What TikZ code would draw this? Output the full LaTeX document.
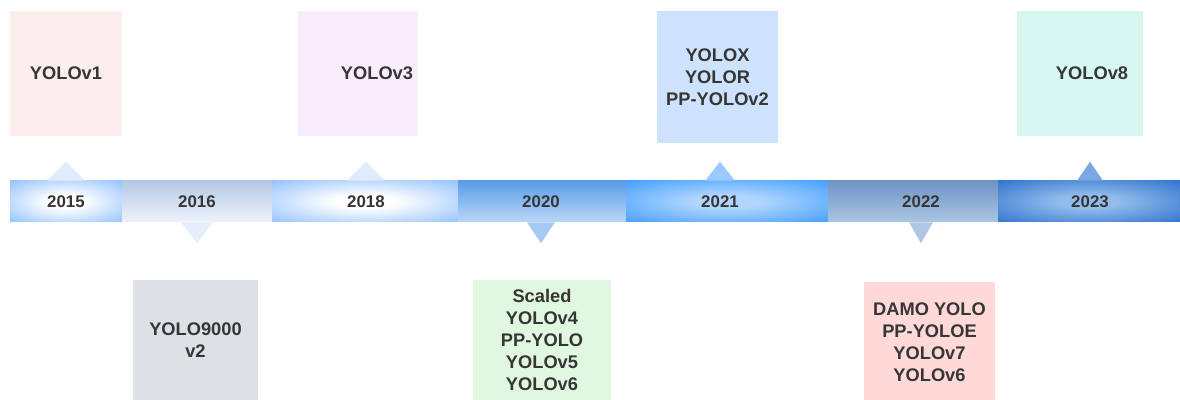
\documentclass[tikz,border=0pt]{standalone}
\usepackage{fontspec}
\setmainfont{Liberation Sans}
\usepackage{xcolor}
\usetikzlibrary{positioning}

\definecolor{txtgray}{HTML}{363636}
\definecolor{barblue}{HTML}{8CBEFF}
\definecolor{midblue}{HTML}{3D9BFF}
\definecolor{deepblue}{HTML}{2B6FCC}
\definecolor{sixtop}{HTML}{B3C8E6}
\definecolor{sixbot}{HTML}{EEF3FB}
\definecolor{twentytop}{HTML}{5B9CE8}
\definecolor{twentybot}{HTML}{B9D7F7}
\definecolor{onemid}{HTML}{B0D6FF}
\definecolor{twotop}{HTML}{6E95C5}
\definecolor{twobot}{HTML}{AAC5E2}
\definecolor{threemid}{HTML}{92BCEC}
\definecolor{ptrpale}{HTML}{E0ECFD}
\definecolor{ptrsix}{HTML}{E6EEF9}
\definecolor{ptrtwenty}{HTML}{A8CAF2}
\definecolor{ptrone}{HTML}{9CC9FF}
\definecolor{ptrtwo}{HTML}{AFC7E2}
\definecolor{ptrthree}{HTML}{7AA8E3}
\definecolor{boxone}{RGB}{253,238,238}
\definecolor{boxthree}{RGB}{248,236,253}
\definecolor{boxx}{RGB}{204,226,253}
\definecolor{boxeight}{RGB}{215,247,241}
\definecolor{boxtwo}{RGB}{221,224,229}
\definecolor{boxfour}{RGB}{224,248,224}
\definecolor{boxseven}{RGB}{255,216,216}

% wide glows for the bar pieces
\pgfdeclareradialshading{paleglow}{\pgfpoint{0bp}{0bp}}{color(0bp)=(white); color(8bp)=(white); color(38bp)=(barblue); color(50bp)=(barblue)}
\pgfdeclareradialshading{midglow}{\pgfpoint{0bp}{0bp}}{color(0bp)=(onemid); color(8bp)=(onemid); color(38bp)=(midblue); color(50bp)=(midblue)}
\pgfdeclareradialshading{deepglow}{\pgfpoint{0bp}{0bp}}{color(0bp)=(threemid); color(8bp)=(threemid); color(38bp)=(deepblue); color(50bp)=(deepblue)}

\begin{document}
\begin{tikzpicture}[
		seg/.style={inner sep=0pt, minimum height=1.025cm},
		year/.style={font=\fontsize{12}{14}\selectfont\bfseries, text=txtgray},
		yolotext/.style={align=center, font=\fontsize{13}{15.6}\selectfont\bfseries, text=txtgray},
		yolobox/.style={inner sep=0pt, minimum height=3.125cm, yolotext}]
		\useasboundingbox (0,0) rectangle (29.5,10);
		%
		\node[seg, minimum width=2.8cm, shading=paleglow] (s15) at (1.65,4.9625) {};
		\node[seg, minimum width=3.75cm, top color=sixtop, bottom color=sixbot] (s16) at (4.925,4.9625) {};
		\node[seg, minimum width=4.65cm, shading=paleglow] (s18) at (9.125,4.9625) {};
		\node[seg, minimum width=4.2cm, top color=twentytop, bottom color=twentybot] (s20) at (13.55,4.9625) {};
		\node[seg, minimum width=5.05cm, shading=midglow] (s21) at (18.175,4.9625) {};
		\node[seg, minimum width=4.25cm, top color=twotop, bottom color=twobot] (s22) at (22.825,4.9625) {};
		\node[seg, minimum width=4.55cm, shading=deepglow] (s23) at (27.225,4.9625) {};
		%
		\node[year] (y15) at (1.65,4.95) {2015};
		\node[year] (y16) at (4.925,4.95) {2016};
		\node[year] (y18) at (9.15,4.95) {2018};
		\node[year] (y20) at (13.525,4.95) {2020};
		\node[year] (y21) at (18.0,4.95) {2021};
		\node[year] (y22) at (23.025,4.95) {2022};
		\node[year] (y23) at (27.25,4.95) {2023};
		%
		\fill[ptrpale] (y15 |- s15.north) ++(-0.475,0) -- ++(0.475,0.475) -- ++(0.475,-0.475) -- cycle;
		\fill[ptrsix] (y16 |- s16.south) ++(-0.4,0) -- ++(0.4,-0.525) -- ++(0.4,0.525) -- cycle;
		\fill[ptrpale] (y18 |- s18.north) ++(-0.475,0) -- ++(0.475,0.475) -- ++(0.475,-0.475) -- cycle;
		\fill[ptrtwenty] (y20 |- s20.south) ++(-0.35,0) -- ++(0.35,-0.525) -- ++(0.35,0.525) -- cycle;
		\fill[ptrone] (y21 |- s21.north) ++(-0.375,0) -- ++(0.375,0.475) -- ++(0.375,-0.475) -- cycle;
		\fill[ptrtwo] (y22 |- s22.south) ++(-0.3,0) -- ++(0.3,-0.525) -- ++(0.3,0.525) -- cycle;
		\fill[ptrthree] (y23 |- s23.north) ++(-0.325,0) -- ++(0.325,0.475) -- ++(0.325,-0.475) -- cycle;
		%
		\node[yolobox, minimum width=2.8cm, fill=boxone] (v1) at (1.65,8.1625) {YOLOv1};
		\node[yolobox, minimum width=3.0cm, fill=boxthree,
			label={[yolotext, xshift=0.475cm]center:YOLOv3}] (v3) at (8.95,8.1625) {};
		\node[yolobox, minimum width=3.025cm, minimum height=3.3cm, fill=boxx] (vx) at (17.9375,8.075) {YOLOX\\YOLOR\\PP-YOLOv2};
		\node[yolobox, minimum width=3.15cm, fill=boxeight,
			label={[yolotext, xshift=0.3cm]center:YOLOv8}] (v8) at (27.0,8.1625) {};
		\node[yolobox, minimum width=3.125cm, minimum height=3.0cm, fill=boxtwo] (v2) at (4.8875,1.5) {YOLO9000\\v2};
		\node[yolobox, minimum width=3.45cm, minimum height=3.0cm, fill=boxfour] (v4) at (13.55,1.5) {Scaled\\YOLOv4\\PP-YOLO\\YOLOv5\\YOLOv6};
		\node[yolobox, minimum width=3.275cm, minimum height=3.0cm, fill=boxseven] (v7) at (23.2375,1.45) {DAMO YOLO\\PP-YOLOE\\YOLOv7\\YOLOv6};
		\end{tikzpicture}
\end{document}
